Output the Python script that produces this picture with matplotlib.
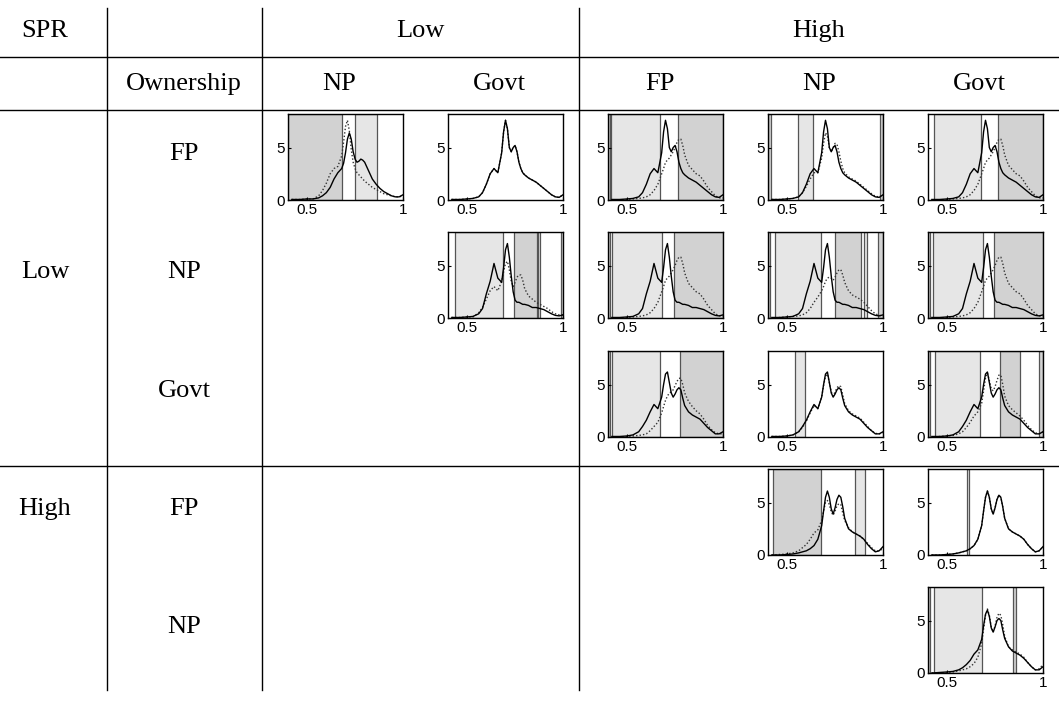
import numpy as np
import matplotlib.pyplot as plt

W, H = 1059, 705

# table labels
spr_levels = ["Low", "High"]
col_spr = ["Low", "Low", "High", "High", "High"]
col_own = ["NP", "Govt", "FP", "NP", "Govt"]
row_spr = ["Low", "Low", "Low", "High", "High"]
row_own = ["FP", "NP", "Govt", "FP", "NP"]

# evaluation grid of the density estimates (efficiency score)
grid = [0.42, 0.46, 0.50, 0.53, 0.56, 0.58, 0.60, 0.62, 0.64, 0.66,
        0.68, 0.69, 0.70, 0.71, 0.72, 0.73, 0.74, 0.75, 0.76, 0.77,
        0.78, 0.79, 0.80, 0.82, 0.84, 0.86, 0.88, 0.90, 0.92, 0.94,
        0.96, 0.98, 1.00]

# densities
lfp_lnp_solid = [0.05, 0.05, 0.1, 0.1, 0.2, 0.4, 0.7, 1.2, 2.0, 2.6,
                 3.0, 3.5, 4.5, 5.8, 6.4, 5.8, 4.6, 3.9, 3.6, 3.7,
                 3.9, 3.8, 3.6, 2.8, 2.0, 1.5, 1.1, 0.8, 0.6, 0.4,
                 0.3, 0.3, 0.5]
lfp_lnp_dotted = [0.05, 0.05, 0.1, 0.1, 0.4, 0.9, 1.6, 2.5, 3.0, 3.2,
                  4.2, 5.5, 7.0, 7.6, 6.6, 4.8, 3.6, 3.0, 2.6, 2.4,
                  2.2, 2.0, 1.8, 1.5, 1.2, 1.0, 0.8, 0.6, 0.5, 0.4,
                  0.3, 0.3, 0.4]
lfp = [0.05, 0.05, 0.1, 0.15, 0.3, 0.7, 1.5, 2.5, 3.0, 2.6,
       4.5, 6.5, 7.6, 6.8, 5.0, 4.6, 5.0, 5.2, 4.6, 3.6,
       3.0, 2.6, 2.4, 2.1, 1.9, 1.7, 1.4, 1.1, 0.8, 0.5,
       0.3, 0.25, 0.5]
hfp_dotted = [0.0, 0.0, 0.05, 0.1, 0.15, 0.2, 0.3, 0.5, 0.9, 1.5,
              2.5, 3.0, 3.6, 3.8, 4.0, 4.3, 4.6, 5.0, 5.5, 5.8,
              5.8, 5.2, 4.3, 3.3, 2.9, 2.5, 2.3, 1.8, 1.2, 0.8,
              0.4, 0.2, 0.2]
hnp_dotted_r1 = [0.05, 0.05, 0.1, 0.15, 0.3, 0.7, 1.3, 2.0, 2.6, 2.6,
                 4.0, 5.4, 6.4, 6.1, 5.0, 4.6, 5.0, 5.4, 5.3, 4.6,
                 3.7, 3.0, 2.6, 2.2, 2.0, 1.8, 1.5, 1.2, 0.9, 0.6,
                 0.35, 0.3, 0.5]
lnp = [0.05, 0.05, 0.1, 0.15, 0.4, 0.9, 2.3, 3.5, 5.2, 3.8,
       3.4, 4.8, 6.5, 7.1, 5.8, 4.0, 2.5, 1.7, 1.5, 1.5,
       1.4, 1.3, 1.3, 1.2, 1.0, 1.0, 0.9, 0.8, 0.6, 0.4,
       0.25, 0.2, 0.3]
lgovt_dotted_r2 = [0.05, 0.05, 0.1, 0.1, 0.5, 1.0, 1.8, 2.6, 3.0, 2.6,
                   3.5, 4.4, 5.2, 5.4, 4.6, 3.5, 3.0, 3.4, 3.9, 4.1,
                   4.1, 3.6, 2.8, 2.1, 1.8, 1.5, 1.3, 1.1, 0.9, 0.6,
                   0.4, 0.3, 0.3]
hnp_dotted_r2 = [0.0, 0.05, 0.1, 0.15, 0.2, 0.3, 0.5, 0.9, 1.5, 2.0,
                 2.6, 3.0, 3.5, 3.8, 3.9, 3.8, 3.6, 3.9, 4.3, 4.6,
                 4.6, 4.1, 3.4, 2.6, 2.2, 2.0, 1.8, 1.5, 1.1, 0.7,
                 0.4, 0.25, 0.2]
lgovt = [0.05, 0.05, 0.1, 0.2, 0.5, 1.0, 1.6, 2.4, 3.1, 2.7,
         3.8, 5.0, 6.0, 6.2, 5.2, 4.2, 3.8, 4.1, 4.5, 4.7,
         4.5, 3.7, 3.0, 2.4, 2.1, 1.9, 1.7, 1.3, 0.9, 0.6,
         0.3, 0.3, 0.5]
hfp_dotted_r3 = [0.0, 0.0, 0.05, 0.1, 0.15, 0.2, 0.3, 0.6, 1.0, 1.4,
                 2.3, 2.9, 3.5, 3.9, 4.2, 4.3, 4.5, 4.9, 5.3, 5.6,
                 5.6, 5.0, 4.2, 3.4, 2.9, 2.5, 2.2, 1.7, 1.1, 0.7,
                 0.4, 0.3, 0.3]
hnp_dotted_r3 = [0.05, 0.05, 0.1, 0.2, 0.5, 0.9, 1.5, 2.3, 3.0, 2.7,
                 3.8, 4.9, 5.8, 6.0, 5.2, 4.3, 3.9, 4.3, 4.7, 4.9,
                 4.8, 4.0, 3.2, 2.5, 2.2, 2.0, 1.8, 1.4, 1.0, 0.6,
                 0.35, 0.3, 0.4]
hgovt_dotted_r3 = [0.0, 0.05, 0.1, 0.15, 0.3, 0.5, 0.9, 1.4, 2.0, 2.4,
                   3.2, 4.4, 5.6, 6.1, 5.4, 4.6, 4.4, 4.8, 5.4, 5.9,
                   5.9, 5.0, 3.9, 3.0, 2.6, 2.3, 2.0, 1.6, 1.1, 0.7,
                   0.4, 0.3, 0.5]
hfp = [0.0, 0.0, 0.05, 0.1, 0.2, 0.3, 0.4, 0.6, 0.9, 1.5,
       2.8, 4.2, 5.5, 6.1, 5.5, 4.4, 3.9, 4.5, 5.3, 5.7,
       5.5, 4.6, 3.5, 2.5, 2.2, 2.0, 1.8, 1.5, 1.0, 0.6,
       0.3, 0.4, 0.8]
hnp = [0.0, 0.05, 0.1, 0.2, 0.4, 0.7, 1.0, 1.5, 2.1, 2.4,
       3.3, 4.2, 5.0, 5.2, 4.8, 4.1, 3.8, 4.2, 4.7, 4.9,
       4.8, 4.0, 3.3, 2.6, 2.2, 2.0, 1.8, 1.5, 1.1, 0.7,
       0.4, 0.4, 0.6]
hnp_r5 = [0.0, 0.05, 0.1, 0.15, 0.3, 0.5, 0.8, 1.2, 1.8, 2.2,
          3.2, 4.5, 5.6, 6.0, 5.4, 4.3, 3.9, 4.4, 5.0, 5.2,
          5.0, 4.1, 3.3, 2.5, 2.1, 1.9, 1.7, 1.4, 1.0, 0.6,
          0.3, 0.3, 0.6]

# shaded intervals (start, end, 'L' light / 'D' dark)
bands_11 = [(0.40, 0.682, 'D'), (0.751, 0.864, 'L')]
bands_12 = []
bands_13 = [(0.40, 0.412, 'D'), (0.415, 0.67, 'L'), (0.765, 1.0, 'D')]
bands_14 = [(0.40, 0.415, 'D'), (0.556, 0.633, 'L'), (0.985, 1.0, 'D')]
bands_15 = [(0.43, 0.678, 'L'), (0.765, 1.0, 'D')]
bands_22 = [(0.438, 0.686, 'L'), (0.743, 0.865, 'D'), (0.870, 0.882, 'L'),
            (0.987, 1.0, 'L')]
bands_23 = [(0.40, 0.412, 'D'), (0.423, 0.682, 'L'), (0.744, 1.0, 'D')]
bands_24 = [(0.40, 0.41, 'D'), (0.435, 0.677, 'L'), (0.747, 0.887, 'D'),
            (0.90, 0.916, 'L'), (0.975, 1.0, 'D')]
bands_25 = [(0.40, 0.41, 'D'), (0.424, 0.685, 'L'), (0.746, 1.0, 'D')]
bands_33 = [(0.40, 0.412, 'D'), (0.42, 0.673, 'L'), (0.774, 1.0, 'D')]
bands_34 = [(0.542, 0.591, 'L')]
bands_35 = [(0.40, 0.41, 'D'), (0.434, 0.673, 'L'), (0.777, 0.882, 'D'),
            (0.977, 1.0, 'D')]
bands_44 = [(0.426, 0.677, 'D'), (0.855, 0.904, 'L')]
bands_45 = [(0.603, 0.615, 'L')]
bands_55 = [(0.40, 0.41, 'D'), (0.43, 0.68, 'L'), (0.845, 0.86, 'D')]

panels = [
    (0, 0, lfp_lnp_solid, lfp_lnp_dotted, bands_11),
    (0, 1, lfp, lfp, bands_12),
    (0, 2, lfp, hfp_dotted, bands_13),
    (0, 3, lfp, hnp_dotted_r1, bands_14),
    (0, 4, lfp, hfp_dotted, bands_15),
    (1, 1, lnp, lgovt_dotted_r2, bands_22),
    (1, 2, lnp, hfp_dotted, bands_23),
    (1, 3, lnp, hnp_dotted_r2, bands_24),
    (1, 4, lnp, hfp_dotted, bands_25),
    (2, 2, lgovt, hfp_dotted_r3, bands_33),
    (2, 3, lgovt, hnp_dotted_r3, bands_34),
    (2, 4, lgovt, hgovt_dotted_r3, bands_35),
    (3, 3, hfp, hnp, bands_44),
    (3, 4, hfp, hfp, bands_45),
    (4, 4, hnp_r5, hfp, bands_55),
]

# layout in pixels
col_left = [288, 448, 608, 768, 928]
row_top = [114, 232, 351, 469, 587]
PW, PH = 115, 86
shade = {'L': '#e6e6e6', 'D': '#d2d2d2'}
serif = 'Liberation Serif'

fig = plt.figure(figsize=(W / 100, H / 100), dpi=100)
bg = fig.add_axes([0, 0, 1, 1])
bg.set_xlim(0, W)
bg.set_ylim(H, 0)
bg.axis('off')

# table rules
for y in [57, 110, 466]:
    bg.plot([0, W], [y, y], color='black', lw=1.0)
for x in [107, 262, 579]:
    bg.plot([x, x], [8, 690], color='black', lw=1.0)

fs = 19
bg.text(45, 31, "SPR", family=serif, fontsize=fs, ha='center', va='center')
bg.text(420, 31, spr_levels[0], family=serif, fontsize=fs, ha='center', va='center')
bg.text(819, 31, spr_levels[1], family=serif, fontsize=fs, ha='center', va='center')
bg.text(184, 84, "Ownership", family=serif, fontsize=fs, ha='center', va='center')
for j, name in enumerate(col_own):
    bg.text(col_left[j] + PW / 2 - 6, 84, name, family=serif, fontsize=fs,
            ha='center', va='center')
for i, name in enumerate(row_own):
    bg.text(184, row_top[i] + 40, name, family=serif, fontsize=fs,
            ha='center', va='center')
bg.text(45, row_top[1] + 40, row_spr[1], family=serif, fontsize=fs,
        ha='center', va='center')
bg.text(45, row_top[3] + 40, row_spr[3], family=serif, fontsize=fs,
        ha='center', va='center')

for r, c, solid, dotted, bands in panels:
    ax = fig.add_axes([col_left[c] / W, 1 - (row_top[r] + PH) / H, PW / W, PH / H])
    for x0, x1, k in bands:
        ax.axvspan(x0, x1, facecolor=shade[k], edgecolor='#555555', lw=0.9, zorder=0)
    ax.plot(grid, dotted, color='#333333', lw=1.0, linestyle=(0, (1, 1.5)), zorder=2)
    ax.plot(grid, solid, color='black', lw=1.0, zorder=3)
    ax.set_xlim(0.4, 1.0)
    ax.set_ylim(0, 8.2)
    ax.set_xticks([0.5, 1.0])
    ax.set_xticklabels(['0.5', '1'], family='Liberation Sans')
    ax.set_yticks([0, 5])
    ax.set_yticklabels(['0', '5'], family='Liberation Sans')
    ax.tick_params(direction='in', length=2.5, width=0.8, labelsize=11, pad=2)
    for s in ax.spines.values():
        s.set_linewidth(1.0)
        s.set_zorder(4)

fig.savefig('out.png', dpi=100)
